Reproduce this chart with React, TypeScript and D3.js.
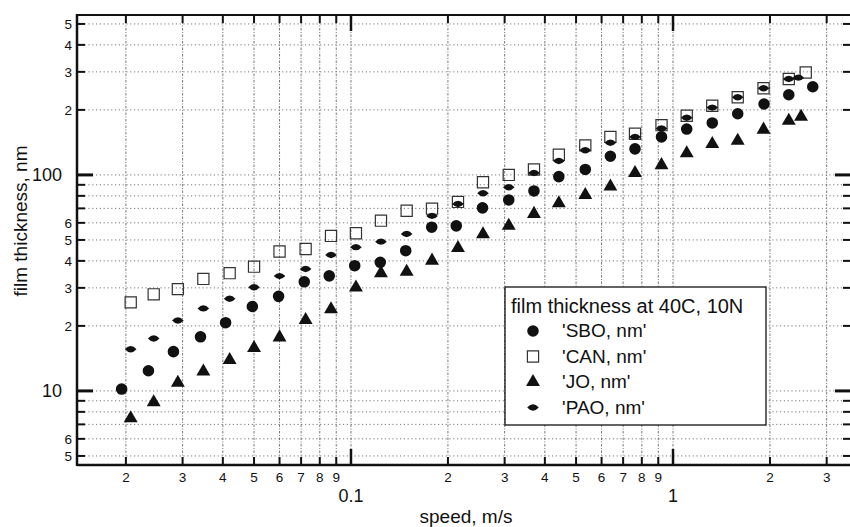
import * as d3 from "d3";

// speeds (m/s) and film thickness (nm)
const speedSBO = [0.0194, 0.0235, 0.0281, 0.0341, 0.0408, 0.0494, 0.0596, 0.0716, 0.0856, 0.1027, 0.1233, 0.1479, 0.1781, 0.2123, 0.2561, 0.309, 0.37, 0.442, 0.534, 0.639, 0.762, 0.921, 1.103, 1.324, 1.588, 1.917, 2.288, 2.716];
const filmSBO = [10.2, 12.4, 15.2, 17.8, 20.7, 24.6, 27.4, 32.0, 34.1, 38.0, 39.4, 44.6, 57.3, 58.1, 70.4, 76.6, 84.3, 98.2, 106, 122, 132, 150, 163, 174, 192, 213, 235, 256];

const speedCAN = [0.0207, 0.0244, 0.029, 0.0348, 0.042, 0.05, 0.06, 0.0723, 0.0867, 0.1036, 0.1239, 0.1489, 0.1785, 0.2149, 0.257, 0.309, 0.37, 0.442, 0.534, 0.639, 0.762, 0.921, 1.103, 1.324, 1.588, 1.91, 2.288, 2.583];
const filmCAN = [25.7, 28.0, 29.6, 33.0, 35.1, 37.6, 44.2, 45.4, 52.2, 53.7, 61.4, 68.3, 69.8, 75.0, 92.5, 100, 106, 124, 137, 150, 155, 170, 188, 209, 229, 252, 278, 298];

const speedJO = [0.0207, 0.0244, 0.029, 0.0348, 0.042, 0.05, 0.06, 0.0723, 0.0867, 0.1036, 0.1239, 0.1489, 0.1785, 0.2149, 0.257, 0.309, 0.37, 0.442, 0.534, 0.639, 0.762, 0.921, 1.103, 1.324, 1.588, 1.91, 2.288, 2.498];
const filmJO = [7.47, 8.86, 10.9, 12.3, 13.9, 15.8, 17.7, 21.3, 23.9, 30.1, 35.1, 35.6, 40.1, 45.9, 53.1, 58.2, 66.0, 74.0, 80.8, 88.3, 102, 111, 126, 139, 144, 162, 178, 186];

const speedPAO = [0.0207, 0.0244, 0.029, 0.0348, 0.042, 0.05, 0.06, 0.0723, 0.0867, 0.1036, 0.1239, 0.1489, 0.1785, 0.2149, 0.257, 0.309, 0.37, 0.442, 0.534, 0.639, 0.762, 0.921, 1.103, 1.324, 1.588, 1.91, 2.288, 2.45];
const filmPAO = [15.6, 17.5, 21.2, 24.1, 26.7, 30.2, 34.0, 36.7, 42.6, 46.3, 49.1, 53.3, 64.6, 73.4, 82.3, 87.7, 102, 116, 130, 141, 150, 164, 184, 205, 229, 252, 278, 282];

const xTicks = [0.02, 0.03, 0.04, 0.05, 0.06, 0.07, 0.08, 0.09, 0.1, 0.2, 0.3, 0.4, 0.5, 0.6, 0.7, 0.8, 0.9, 1, 2, 3];
const xMajor = [0.1, 1];
const xMajorLabels = ["0.1", "1"];
const yTicks = [5, 6, 7, 8, 9, 10, 20, 30, 40, 50, 60, 70, 80, 90, 100, 200, 300, 400, 500];
const yLabelled = [5, 6, 20, 30, 40, 50, 60, 200, 300, 400, 500];
const yMajor = [10, 100];
const yMajorLabels = ["10", "100"];

const legendTitle = "film thickness at 40C, 10N";
const legendNames = ["'SBO, nm'", "'CAN, nm'", "'JO, nm'", "'PAO, nm'"];

const width = 850,
  height = 527,
  left = 77,
  right = 851,
  top = 15,
  bottom = 465;

const font = "'Liberation Sans', Arial, Helvetica, sans-serif";

const digit = (v: number) => String(Math.round(v / Math.pow(10, Math.floor(Math.log10(v) + 1e-9))));

const circlePath = d3.symbol().type(d3.symbolCircle).size(105)()!;
const squarePath = d3.symbol().type(d3.symbolSquare).size(125)()!;
const trianglePath = d3.symbol().type(d3.symbolTriangle).size(84)()!;
const lensPath = "M-5.8,0Q0,-6.4 5.8,0Q0,6.4 -5.8,0Z";

function Marker({ kind, x, y }: { kind: string; x: number; y: number }) {
  const t = `translate(${x},${y})`;
  if (kind === "SBO") return <path d={circlePath} transform={t} fill="#111" />;
  if (kind === "CAN")
    return <path d={squarePath} transform={t} fill="none" stroke="#333" strokeWidth={1.2} />;
  if (kind === "JO") return <path d={trianglePath} transform={t} fill="#111" />;
  return <path d={lensPath} transform={t} fill="#111" />;
}

export default function App() {
  const x = d3.scaleLog().domain([0.0141, 3.57]).range([left, right]);
  const y = d3.scaleLog().domain([4.54, 550]).range([bottom, top]);

  const series = [
    { kind: "CAN", sx: speedCAN, sy: filmCAN },
    { kind: "PAO", sx: speedPAO, sy: filmPAO },
    { kind: "JO", sx: speedJO, sy: filmJO },
    { kind: "SBO", sx: speedSBO, sy: filmSBO },
  ];

  const legendKinds = ["SBO", "CAN", "JO", "PAO"];
  const lx = 505,
    ly = 287,
    lw = 261,
    lh = 138;

  return (
    <svg
      width={width}
      height={height}
      style={{ position: "absolute", left: 0, top: 0, display: "block", background: "#fff" }}
      fontFamily={font}
    >
      <rect width={width} height={height} fill="#fff" />

      {/* grid */}
      <g>
        {yTicks.map((t) => (
          <line
            key={"gy" + t}
            x1={left}
            x2={right}
            y1={y(t)}
            y2={y(t)}
            stroke="#555"
            strokeWidth={0.8}
            strokeDasharray="1.2 2.6"
          />
        ))}
        {xTicks.map((t) => (
          <line
            key={"gx" + t}
            x1={x(t)}
            x2={x(t)}
            y1={top}
            y2={bottom}
            stroke="#555"
            strokeWidth={0.8}
            strokeDasharray="2.5 1.5 1 1.5"
          />
        ))}
      </g>

      {/* data */}
      {series.map((s) => (
        <g key={s.kind}>
          {s.sx.map((v, i) => (
            <Marker key={i} kind={s.kind} x={x(v)} y={y(s.sy[i])} />
          ))}
        </g>
      ))}

      {/* frame */}
      <line x1={left} x2={right} y1={top} y2={top} stroke="#111" strokeWidth={2} />
      <line x1={left} x2={left} y1={top - 1} y2={bottom + 1} stroke="#111" strokeWidth={2.5} />
      <line x1={left} x2={right} y1={bottom} y2={bottom} stroke="#111" strokeWidth={2.5} />
      <line x1={right} x2={right} y1={top} y2={bottom} stroke="#111" strokeWidth={2} />

      {/* y ticks */}
      {yTicks.map((t) => {
        const major = yMajor.includes(t);
        const len = major ? 16 : 8;
        return (
          <g key={"ty" + t}>
            <line x1={left} x2={left + len} y1={y(t)} y2={y(t)} stroke="#111" strokeWidth={major ? 3 : 2} />
            <line x1={right} x2={right - len} y1={y(t)} y2={y(t)} stroke="#111" strokeWidth={major ? 3 : 2} />
          </g>
        );
      })}
      {yLabelled.map((t) => (
        <text key={"ly" + t} x={72} y={y(t)} dy="0.36em" textAnchor="end" fontSize={13.5} fill="#111">
          {digit(t)}
        </text>
      ))}
      {yMajor.map((t, i) => (
        <text key={"my" + t} x={62} y={y(t)} dy="0.36em" textAnchor="end" fontSize={18} fill="#111">
          {yMajorLabels[i]}
        </text>
      ))}

      {/* x ticks */}
      {xTicks.map((t) => {
        const major = xMajor.includes(t);
        const len = major ? 16 : 8;
        return (
          <g key={"tx" + t}>
            <line x1={x(t)} x2={x(t)} y1={bottom} y2={bottom - len} stroke="#111" strokeWidth={major ? 2.5 : 2} />
            <line x1={x(t)} x2={x(t)} y1={top} y2={top + len} stroke="#111" strokeWidth={major ? 2.5 : 2} />
          </g>
        );
      })}
      {xTicks
        .filter((t) => !xMajor.includes(t))
        .map((t) => (
          <text key={"lx" + t} x={x(t)} y={482} textAnchor="middle" fontSize={13.5} fill="#111">
            {digit(t)}
          </text>
        ))}
      {xMajor.map((t, i) => (
        <text key={"mx" + t} x={x(t)} y={502} textAnchor="middle" fontSize={18} fill="#111">
          {xMajorLabels[i]}
        </text>
      ))}

      {/* axis titles */}
      <text x={466} y={523} textAnchor="middle" fontSize={19} fill="#111">
        speed, m/s
      </text>
      <text
        transform={`translate(27,${221}) rotate(-90)`}
        textAnchor="middle"
        fontSize={19}
        fill="#111"
      >
        film thickness, nm
      </text>

      {/* legend */}
      <g>
        <rect x={lx} y={ly} width={lw} height={lh} fill="#fff" stroke="#111" strokeWidth={1.3} />
        <text x={511} y={313} fontSize={20} fill="#111">
          {legendTitle}
        </text>
        {legendNames.map((name, i) => (
          <g key={name}>
            <Marker kind={legendKinds[i]} x={533} y={331 + i * 25.5} />
            <text x={562} y={337 + i * 25.5} fontSize={19} fill="#111">
              {name}
            </text>
          </g>
        ))}
      </g>
    </svg>
  );
}
